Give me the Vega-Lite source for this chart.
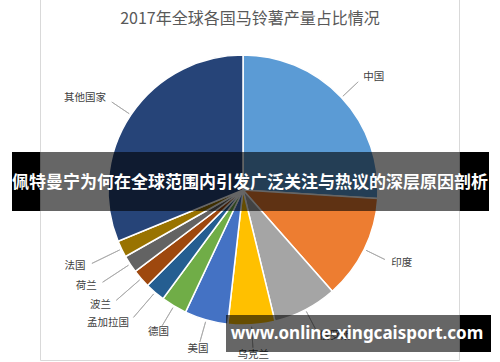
{
  "$schema": "https://vega.github.io/schema/vega-lite/v6.json",
  "width": 500,
  "height": 362,
  "padding": 0,
  "autosize": {"type": "none"},
  "background": "white",
  "config": {"view": {"stroke": null}, "font": "Noto Sans CJK SC"},
  "title": {
    "text": "2017年全球各国马铃薯产量占比情况",
    "fontSize": 16,
    "fontWeight": "normal",
    "color": "#595959",
    "font": "Noto Sans CJK SC",
    "anchor": "middle",
    "offset": 0,
    "dy": 42,
    "baseline": "alphabetic"
  },
  "layer": [
    {
      "data": {"values": [{}]},
      "mark": {"type": "rect", "x": 40.5, "x2": 459.5, "y": -2, "y2": 360.5, "fill": "white", "stroke": "#d9d9d9", "strokeWidth": 1},
      "encoding": {}
    },
    {
      "data": {
        "values": [
          {"idx": 1, "country": "中国", "share": 26.0},
          {"idx": 2, "country": "印度", "share": 12.5},
          {"idx": 3, "country": "俄罗斯", "share": 7.7},
          {"idx": 4, "country": "乌克兰", "share": 5.6},
          {"idx": 5, "country": "美国", "share": 5.2},
          {"idx": 6, "country": "德国", "share": 3.1},
          {"idx": 7, "country": "孟加拉国", "share": 2.4},
          {"idx": 8, "country": "波兰", "share": 2.2},
          {"idx": 9, "country": "荷兰", "share": 2.1},
          {"idx": 10, "country": "法国", "share": 2.0},
          {"idx": 11, "country": "其他国家", "share": 31.2}
        ]
      },
      "encoding": {
        "theta": {"field": "share", "type": "quantitative", "stack": true},
        "order": {"field": "idx", "type": "quantitative"},
        "x": {"value": 243},
        "y": {"value": 190}
      },
      "layer": [
        {
          "mark": {"type": "arc", "radius": 135, "stroke": "white", "strokeWidth": 1.5},
          "encoding": {
            "color": {
              "field": "country",
              "type": "nominal",
              "scale": {
                "domain": ["中国", "印度", "俄罗斯", "乌克兰", "美国", "德国", "孟加拉国", "波兰", "荷兰", "法国", "其他国家"],
                "range": ["#5B9BD5", "#ED7D31", "#A5A5A5", "#FFC000", "#4472C4", "#70AD47", "#255E91", "#9E480E", "#636363", "#997300", "#264478"]
              },
              "legend": null
            }
          }
        },
        {
          "mark": {"type": "arc", "radius": {"expr": "datum.idx >= 7 && datum.idx <= 10 ? 168 : 158"}, "radius2": 137, "padAngle": 3, "fillOpacity": 0, "stroke": "#a6a6a6", "strokeWidth": 0.8}
        },
        {
          "mark": {
            "type": "text",
            "radius": {"expr": "datum.idx >= 7 && datum.idx <= 10 ? 175 : 165"},
            "fontSize": 10.5,
            "color": "#404040",
            "font": "Noto Sans CJK SC",
            "baseline": "middle",
            "align": {"expr": "datum.idx <= 3 ? 'left' : (datum.idx <= 6 ? 'center' : 'right')"}
          },
          "encoding": {"text": {"field": "country", "type": "nominal"}}
        }
      ]
    },
    {
      "data": {"values": [{}]},
      "mark": {"type": "rect", "x": 12, "x2": 40, "y": 152, "y2": 211, "fill": "black"},
      "encoding": {}
    },
    {
      "data": {"values": [{}]},
      "mark": {"type": "rect", "x": 40, "x2": 460, "y": 152, "y2": 211, "fill": "black", "opacity": 0.6},
      "encoding": {}
    },
    {
      "data": {"values": [{}]},
      "mark": {"type": "rect", "x": 460, "x2": 489, "y": 152, "y2": 211, "fill": "black"},
      "encoding": {}
    },
    {
      "data": {"values": [{}]},
      "mark": {"type": "text", "x": 250, "y": 183, "text": "佩特曼宁为何在全球范围内引发广泛关注与热议的深层原因剖析", "fontSize": 17, "fontWeight": "bold", "color": "white", "align": "center", "baseline": "middle", "font": "Noto Sans CJK SC"},
      "encoding": {}
    },
    {
      "data": {"values": [{}]},
      "mark": {"type": "rect", "x": 226, "x2": 460, "y": 315, "y2": 352, "fill": "black", "opacity": 0.6},
      "encoding": {}
    },
    {
      "data": {"values": [{}]},
      "mark": {"type": "rect", "x": 460, "x2": 491, "y": 315, "y2": 352, "fill": "black"},
      "encoding": {}
    },
    {
      "data": {"values": [{}]},
      "mark": {"type": "text", "x": 357, "y": 334, "text": "www.online-xingcaisport.com", "fontSize": 17, "fontWeight": "bold", "color": "white", "align": "center", "baseline": "middle", "font": "Noto Sans"},
      "encoding": {}
    }
  ]
}
